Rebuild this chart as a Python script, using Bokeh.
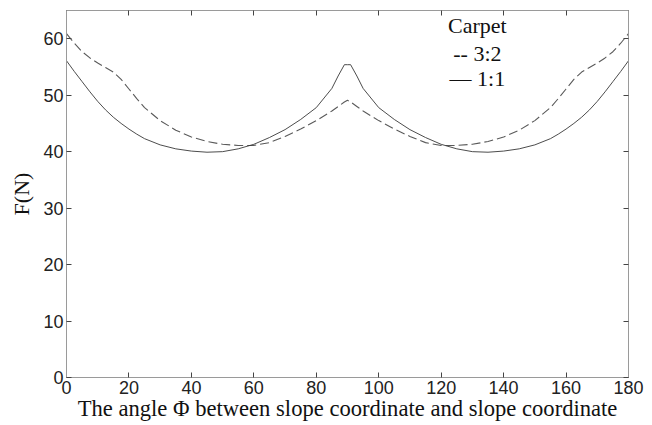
from bokeh.plotting import figure
from bokeh.models import Range1d, LinearAxis, FixedTicker, Label
from bokeh.embed import file_html
from bokeh.resources import INLINE

# ---- data ----
angle = [0, 2.5, 5, 7.5, 10, 12.5, 15, 17.5, 20, 22.5, 25, 30, 35, 40, 45, 50, 55, 60,
         65, 70, 75, 80, 85, 87, 89, 90, 91, 93, 95, 100, 105, 110, 115, 120, 125, 130,
         135, 140, 145, 150, 155, 157.5, 160, 162.5, 165, 167.5, 170, 172.5, 175, 177.5, 180]

force_1_1 = [56.1, 54.2, 52.4, 50.6, 48.9, 47.4, 46.1, 45.0, 44.0, 43.1, 42.3, 41.2, 40.5,
             40.1, 39.9, 40.0, 40.5, 41.3, 42.5, 43.9, 45.7, 47.8, 51.2, 53.4, 55.4, 55.4,
             55.4, 53.4, 51.2, 47.8, 45.7, 43.9, 42.5, 41.3, 40.5, 40.0, 39.9, 40.1, 40.5,
             41.2, 42.3, 43.1, 44.0, 45.0, 46.1, 47.4, 48.9, 50.6, 52.4, 54.2, 56.1]

force_3_2 = [60.9, 59.2, 57.7, 56.6, 55.7, 54.9, 54.1, 52.8, 51.1, 49.4, 47.8, 45.5, 43.8,
             42.6, 41.8, 41.3, 41.1, 41.1, 41.6, 42.7, 44.0, 45.5, 47.2, 48.0, 48.8, 49.1,
             48.8, 48.0, 47.2, 45.5, 44.0, 42.7, 41.6, 41.1, 41.1, 41.3, 41.8, 42.6, 43.8,
             45.5, 47.8, 49.4, 51.1, 52.8, 54.1, 54.9, 55.7, 56.6, 57.7, 59.2, 60.9]

x_ticks = [0, 20, 40, 60, 80, 100, 120, 140, 160, 180]
y_ticks = [0, 10, 20, 30, 40, 50, 60]

legend_title = "Carpet"
legend_lines = ["-- 3:2", "\u2014 1:1"]
x_label = "The angle \u03a6 between slope coordinate and slope coordinate"
y_label = "F(N)"

# ---- figure ----
p = figure(width=652, height=425, output_backend="svg", toolbar_location=None,
           x_range=Range1d(0, 180), y_range=Range1d(0, 65),
           min_border_left=66, min_border_right=24, min_border_top=10,
           min_border_bottom=48)
p.background_fill_color = "white"
p.border_fill_color = "white"
p.outline_line_color = "#9a9a9a"
p.outline_line_width = 1
p.xgrid.visible = False
p.ygrid.visible = False

tick_font = "Liberation Sans"
serif = "Liberation Serif"


def style_axis(ax, show_labels=True):
    ax.axis_line_color = "#9a9a9a"
    ax.major_tick_line_color = "#444444"
    ax.major_tick_in = 5
    ax.major_tick_out = 0
    ax.minor_tick_line_color = None
    ax.major_label_text_font = tick_font
    ax.major_label_text_font_size = "18px"
    ax.major_label_text_color = "#222222"
    ax.major_label_standoff = 3
    if not show_labels:
        ax.major_label_text_font_size = "1px"
        ax.major_label_overrides = {t: "" for t in ax.ticker.ticks}
        ax.major_label_standoff = 0


p.xaxis.ticker = FixedTicker(ticks=x_ticks)
p.yaxis.ticker = FixedTicker(ticks=y_ticks)
style_axis(p.xaxis[0])
style_axis(p.yaxis[0])

xa = p.xaxis[0]
xa.axis_label = x_label
xa.axis_label_text_font = serif
xa.axis_label_text_font_style = "normal"
xa.axis_label_text_font_size = "22.6px"
xa.axis_label_text_color = "#111111"
xa.axis_label_standoff = -1

ya = p.yaxis[0]
ya.axis_label = y_label
ya.axis_label_text_font = serif
ya.axis_label_text_font_style = "normal"
ya.axis_label_text_font_size = "22px"
ya.axis_label_text_color = "#111111"
ya.axis_label_standoff = 6

top_ax = LinearAxis(ticker=FixedTicker(ticks=x_ticks))
style_axis(top_ax, show_labels=False)
p.add_layout(top_ax, "above")
right_ax = LinearAxis(ticker=FixedTicker(ticks=y_ticks))
style_axis(right_ax, show_labels=False)
p.add_layout(right_ax, "right")

# ---- curves ----
p.line(angle, force_3_2, line_color="#5a5a5a", line_width=1.1, line_dash="9 4")
p.line(angle, force_1_1, line_color="#383838", line_width=0.9)

# ---- legend as text ----
for yv, txt in zip([62.3, 57.3, 52.9], [legend_title] + legend_lines):
    p.add_layout(Label(x=131.6, y=yv, text=txt, text_align="center",
                       text_baseline="alphabetic", text_font=serif,
                       text_font_size="22px", text_color="#111111"))

open("out.html", "w").write(file_html(p, INLINE))
